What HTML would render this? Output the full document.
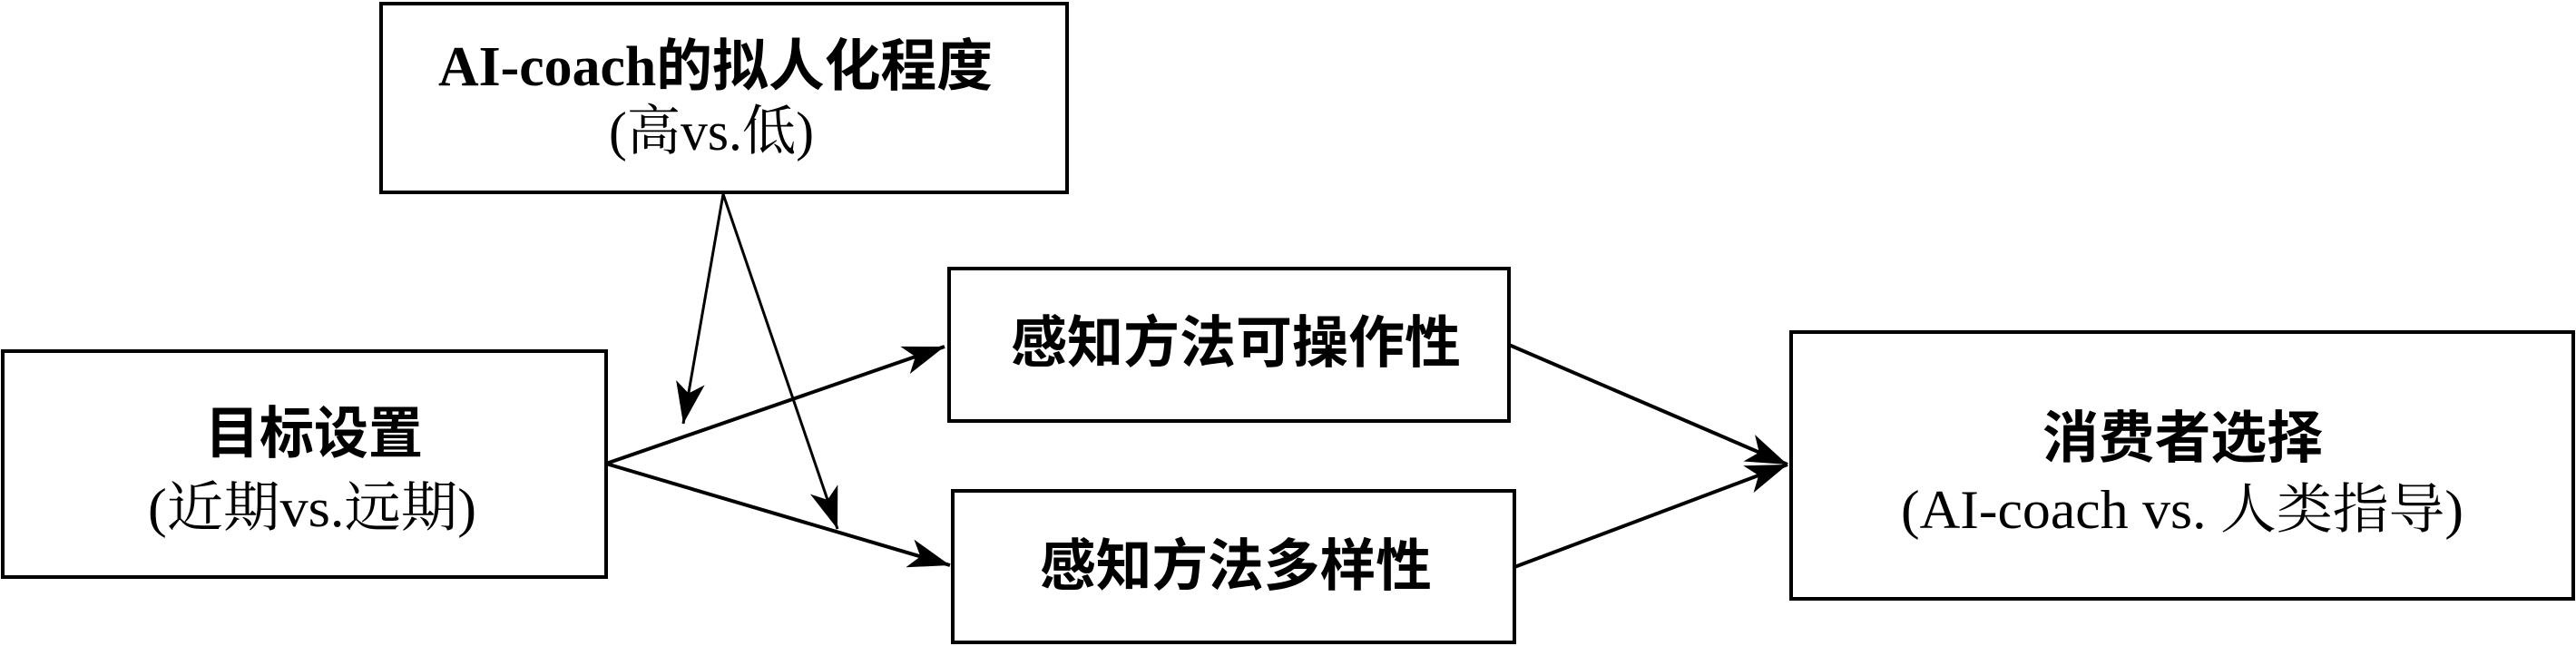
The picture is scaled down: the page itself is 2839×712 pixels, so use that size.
<!DOCTYPE html>
<html><head><meta charset="utf-8"><style>
html,body{margin:0;padding:0;background:#fff;}
svg{display:block;}
.b{font-family:"Liberation Serif","Noto Sans CJK SC",sans-serif;font-weight:bold;font-size:62px;}
.n{font-family:"Liberation Serif","Noto Serif CJK SC",serif;font-size:60px;}
</style></head><body>
<svg width="2839" height="712" viewBox="0 0 2839 712" xmlns="http://www.w3.org/2000/svg">
<defs>
<marker id="ah" markerUnits="userSpaceOnUse" markerWidth="50" markerHeight="40" refX="46" refY="18" orient="auto">
<path d="M0,2 L46,18 L0,34 L12,18 Z" fill="#000"/>
</marker>
</defs>
<g fill="none" stroke="#000" stroke-width="4">
<rect x="420" y="4" width="756" height="208"/>
<rect x="3" y="387" width="665" height="249"/>
<rect x="1046" y="296" width="617" height="168"/>
<rect x="1050" y="541" width="619" height="167"/>
<rect x="1974" y="366" width="862" height="294"/>
</g>
<g stroke="#000" fill="none">
<line x1="668" y1="511" x2="1041" y2="382" stroke-width="4" marker-end="url(#ah)"/>
<line x1="668" y1="511" x2="1047" y2="623" stroke-width="4" marker-end="url(#ah)"/>
<line x1="797" y1="214" x2="753" y2="467" stroke-width="3" marker-end="url(#ah)"/>
<line x1="797" y1="214" x2="923" y2="583" stroke-width="3" marker-end="url(#ah)"/>
<line x1="1663" y1="380" x2="1970" y2="512" stroke-width="4" marker-end="url(#ah)"/>
<line x1="1669" y1="625" x2="1970" y2="512" stroke-width="4" marker-end="url(#ah)"/>
</g>
<g fill="#000">
<text class="b" x="483" y="94" textLength="611" lengthAdjust="spacingAndGlyphs">AI-coach的拟人化程度</text>
<text class="n" x="671" y="165" textLength="226" lengthAdjust="spacingAndGlyphs">(高vs.低)</text>
<text class="b" x="226" y="499" textLength="240" lengthAdjust="spacingAndGlyphs">目标设置</text>
<text class="n" x="163" y="580" textLength="362" lengthAdjust="spacingAndGlyphs">(近期vs.远期)</text>
<text class="b" x="1114" y="399" textLength="496" lengthAdjust="spacingAndGlyphs">感知方法可操作性</text>
<text class="b" x="1146" y="645" textLength="432" lengthAdjust="spacingAndGlyphs">感知方法多样性</text>
<text class="b" x="2251" y="504" textLength="309" lengthAdjust="spacingAndGlyphs">消费者选择</text>
<text class="n" x="2095" y="582" textLength="620" lengthAdjust="spacingAndGlyphs">(AI-coach vs. 人类指导)</text>
</g>
</svg>
</body></html>
